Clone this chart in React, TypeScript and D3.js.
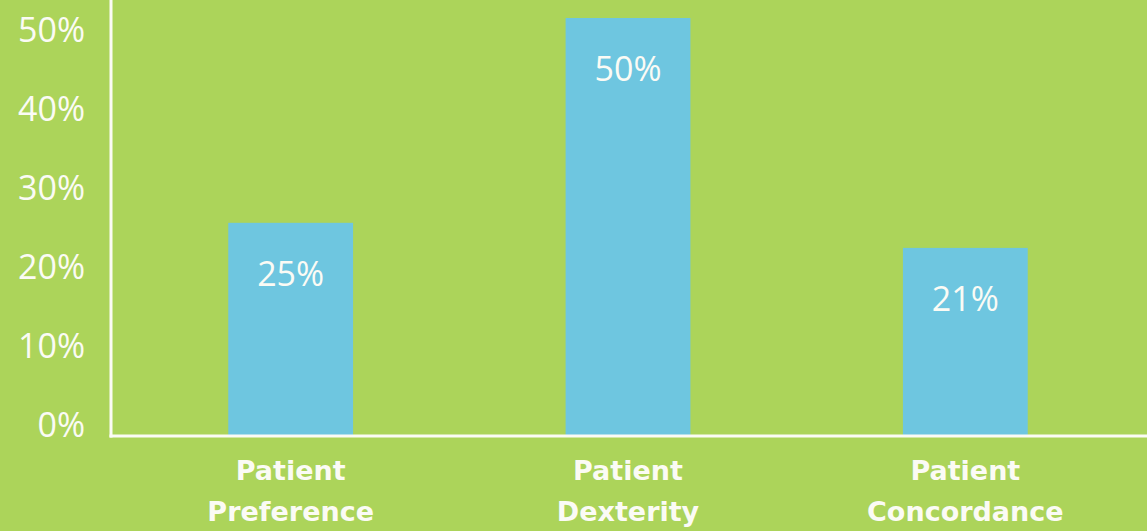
import { useEffect, useRef } from 'react';
import * as d3 from 'd3';

const categories = [['Patient', 'Preference'], ['Patient', 'Dexterity'], ['Patient', 'Concordance']];
// bar heights as drawn (percent)
const barValues = [25.5, 50, 22.5];
const barLabels = ['25%', '50%', '21%'];
const yTicks = [0, 10, 20, 30, 40, 50];

const W = 1147;
const H = 531;
const BG = '#acd45a';
const BAR = '#6ec6e0';
const TEXT = '#fbfbf5';

export default function App() {
  const svgRef = useRef<SVGSVGElement>(null);

  useEffect(() => {
    if (!svgRef.current) return;
    const svg = d3.select(svgRef.current);
    svg.selectAll('*').remove();

    const axisX = 111;
    const baseY = 436;

    const x = d3.scaleBand<number>()
      .domain(categories.map((_, i) => i))
      .range([122, 1134])
      .paddingInner(0.63)
      .paddingOuter(0.315);

    const y = d3.scaleLinear().domain([0, 50]).range([baseY, 18]);
    // tick labels sit a bit above the gridline positions in the original
    const yLabel = d3.scaleLinear().domain([0, 50]).range([424, 29]);

    svg.append('rect').attr('width', W).attr('height', H).attr('fill', BG);

    // bars
    svg.selectAll('.bar')
      .data(barValues)
      .enter()
      .append('rect')
      .attr('class', 'bar')
      .attr('x', (_, i) => x(i)!)
      .attr('width', x.bandwidth())
      .attr('y', d => y(d))
      .attr('height', d => baseY - y(d))
      .attr('fill', BAR);

    // value labels
    svg.selectAll('.val')
      .data(barValues)
      .enter()
      .append('text')
      .attr('class', 'val')
      .attr('x', (_, i) => x(i)! + x.bandwidth() / 2)
      .attr('y', d => y(d) + 50)
      .attr('dominant-baseline', 'central')
      .attr('text-anchor', 'middle')
      .attr('fill', TEXT)
      .style('font-family', '"Open Sans", sans-serif')
      .style('font-size', '34px')
      .text((_, i) => barLabels[i]);

    // axes lines
    svg.append('line')
      .attr('x1', axisX).attr('x2', axisX)
      .attr('y1', 0).attr('y2', baseY + 1.5)
      .attr('stroke', TEXT).attr('stroke-width', 3);
    svg.append('line')
      .attr('x1', axisX - 1.5).attr('x2', W)
      .attr('y1', baseY).attr('y2', baseY)
      .attr('stroke', TEXT).attr('stroke-width', 3);

    // y tick labels
    svg.selectAll('.tick')
      .data(yTicks)
      .enter()
      .append('text')
      .attr('class', 'tick')
      .attr('x', 85)
      .attr('y', d => yLabel(d))
      .attr('dominant-baseline', 'central')
      .attr('text-anchor', 'end')
      .attr('fill', TEXT)
      .style('font-family', '"Open Sans", sans-serif')
      .style('font-size', '34px')
      .text(d => `${d}%`);

    // category labels
    const cat = svg.selectAll('.cat')
      .data(categories)
      .enter()
      .append('text')
      .attr('class', 'cat')
      .attr('text-anchor', 'middle')
      .attr('fill', TEXT)
      .style('font-family', '"DejaVu Sans", sans-serif')
      .style('font-weight', 700)
      .style('font-size', '27px');

    cat.selectAll('tspan')
      .data((d, i) => d.map(line => ({ line, i })))
      .enter()
      .append('tspan')
      .attr('x', d => x(d.i)! + x.bandwidth() / 2)
      .attr('y', (_, j) => 480 + j * 41)
      .text(d => d.line);
  }, []);

  return (
    <div style={{ position: 'fixed', left: 0, top: 0, width: W, height: H }}>
      <svg ref={svgRef} width={W} height={H} />
    </div>
  );
}
